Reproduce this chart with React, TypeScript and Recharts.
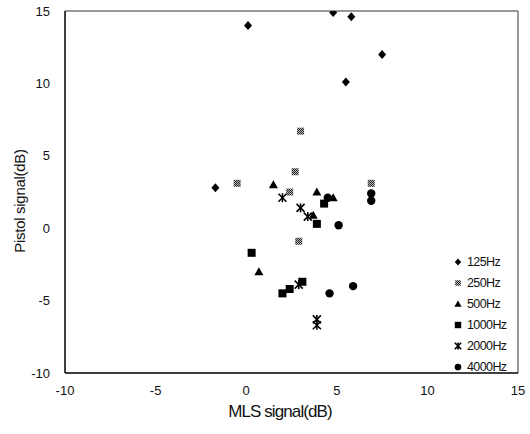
import { ScatterChart, Scatter, XAxis, YAxis, ReferenceLine, Label } from 'recharts';

// values (MLS dB, Pistol dB)
const hz125 = [
  { x: 0.1, y: 14.0 }, { x: 4.8, y: 14.9 }, { x: 5.8, y: 14.6 },
  { x: 7.5, y: 12.0 }, { x: 5.5, y: 10.1 }, { x: -1.7, y: 2.8 },
];
const hz250 = [
  { x: -0.5, y: 3.1 }, { x: 3.0, y: 6.7 }, { x: 2.7, y: 3.9 },
  { x: 2.4, y: 2.5 }, { x: 6.9, y: 3.1 }, { x: 2.9, y: -0.9 },
];
const hz500 = [
  { x: 1.5, y: 3.0 }, { x: 3.9, y: 2.5 }, { x: 4.8, y: 2.1 },
  { x: 3.7, y: 0.9 }, { x: 0.7, y: -3.0 },
];
const hz1000 = [
  { x: 4.3, y: 1.7 }, { x: 3.9, y: 0.3 }, { x: 0.3, y: -1.7 },
  { x: 3.1, y: -3.7 }, { x: 2.4, y: -4.2 }, { x: 2.0, y: -4.5 },
];
const hz2000 = [
  { x: 2.0, y: 2.1 }, { x: 3.0, y: 1.4 }, { x: 3.4, y: 0.8 },
  { x: 2.9, y: -3.9 }, { x: 3.9, y: -6.3 }, { x: 3.9, y: -6.7 },
];
const hz4000 = [
  { x: 4.5, y: 2.1 }, { x: 5.1, y: 0.2 }, { x: 6.9, y: 2.4 },
  { x: 6.9, y: 1.9 }, { x: 4.6, y: -4.5 }, { x: 5.9, y: -4.0 },
];
const ticks = [-10, -5, 0, 5, 10, 15];
const seriesNames = ['125Hz', '250Hz', '500Hz', '1000Hz', '2000Hz', '4000Hz'];

const font = '"Liberation Sans", Arial, sans-serif';

function marker(kind: string, cx: number, cy: number, s = 1) {
  switch (kind) {
    case '125Hz':
      return <path d={`M${cx},${cy - 4.5 * s} L${cx + 4 * s},${cy} L${cx},${cy + 4.5 * s} L${cx - 4 * s},${cy} Z`} fill="#000" />;
    case '250Hz':
      return (
        <g>
          <defs>
            <pattern id="chk" width="2" height="2" patternUnits="userSpaceOnUse">
              <rect width="2" height="2" fill="#bbb" />
              <rect width="1" height="1" fill="#222" />
              <rect x="1" y="1" width="1" height="1" fill="#222" />
            </pattern>
          </defs>
          <rect x={cx - 3.5 * s} y={cy - 3.5 * s} width={7 * s} height={7 * s} fill="url(#chk)" />
        </g>
      );
    case '500Hz':
      return <path d={`M${cx},${cy - 4.5 * s} L${cx + 4.5 * s},${cy + 3.5 * s} L${cx - 4.5 * s},${cy + 3.5 * s} Z`} fill="#000" />;
    case '1000Hz':
      return <rect x={cx - 4 * s} y={cy - 4 * s} width={8 * s} height={8 * s} fill="#000" />;
    case '2000Hz':
      return (
        <g stroke="#000" strokeWidth={1.6}>
          <line x1={cx - 4 * s} y1={cy - 4 * s} x2={cx + 4 * s} y2={cy + 4 * s} />
          <line x1={cx + 4 * s} y1={cy - 4 * s} x2={cx - 4 * s} y2={cy + 4 * s} />
          <line x1={cx} y1={cy - 4.5 * s} x2={cx} y2={cy + 4.5 * s} />
        </g>
      );
    default:
      return <circle cx={cx} cy={cy} r={4.2 * s} fill="#000" />;
  }
}

function shapeFor(kind: string) {
  return (props: any) => marker(kind, props.cx, props.cy);
}

function ChartLegend() {
  return (
    <div
      style={{
        position: 'absolute', left: 452, top: 251, width: 78,
        fontFamily: font, fontSize: 12.5, letterSpacing: -0.6, color: '#111',
      }}
    >
      {seriesNames.map((n) => (
        <div key={n} style={{ display: 'flex', alignItems: 'center', height: 21 }}>
          <svg width={12} height={12} style={{ marginRight: 3 }}>
            {marker(n, 6, 6, 0.8)}
          </svg>
          <span>{n}</span>
        </div>
      ))}
    </div>
  );
}

export default function App() {
  const tickStyle = { fill: '#111', fontSize: 13, fontFamily: font };
  return (
    <div style={{ position: 'absolute', left: 0, top: 0, width: 530, height: 434, background: '#fff' }}>
      <ScatterChart width={530} height={434} margin={{ top: 11, right: 12, bottom: 21, left: 0 }}>
        <XAxis
          type="number"
          dataKey="x"
          domain={[-10, 15]}
          ticks={ticks}
          allowDataOverflow
          tickSize={0}
          tickMargin={13}
          height={40}
          axisLine={{ stroke: '#000', strokeWidth: 1.5 }}
          tick={tickStyle}
        >
          <Label
            content={() => (
              <text x={280} y={417} textAnchor="middle" fontFamily={font} fontSize={17} letterSpacing={-0.9} style={{ fill: '#111' }}>
                MLS signal(dB)
              </text>
            )}
          />
        </XAxis>
        <YAxis
          type="number"
          dataKey="y"
          domain={[-10, 15]}
          ticks={ticks}
          allowDataOverflow
          tickSize={0}
          tickMargin={15}
          width={65}
          axisLine={{ stroke: '#000', strokeWidth: 1.5 }}
          tick={tickStyle}
        >
          <Label
            content={() => (
              <text x={25} y={201} transform="rotate(-90 25 201)" textAnchor="middle" fontFamily={font} fontSize={15} letterSpacing={-0.3} style={{ fill: '#111' }}>
                Pistol signal(dB)
              </text>
            )}
          />
        </YAxis>
        <ReferenceLine y={15} stroke="#333" strokeWidth={1.2} />
        <ReferenceLine x={15} stroke="#555" strokeWidth={1.2} />
        <Scatter name="125Hz" data={hz125} shape={shapeFor('125Hz')} isAnimationActive={false} />
        <Scatter name="250Hz" data={hz250} shape={shapeFor('250Hz')} isAnimationActive={false} />
        <Scatter name="500Hz" data={hz500} shape={shapeFor('500Hz')} isAnimationActive={false} />
        <Scatter name="1000Hz" data={hz1000} shape={shapeFor('1000Hz')} isAnimationActive={false} />
        <Scatter name="2000Hz" data={hz2000} shape={shapeFor('2000Hz')} isAnimationActive={false} />
        <Scatter name="4000Hz" data={hz4000} shape={shapeFor('4000Hz')} isAnimationActive={false} />
      </ScatterChart>
      <ChartLegend />
    </div>
  );
}
